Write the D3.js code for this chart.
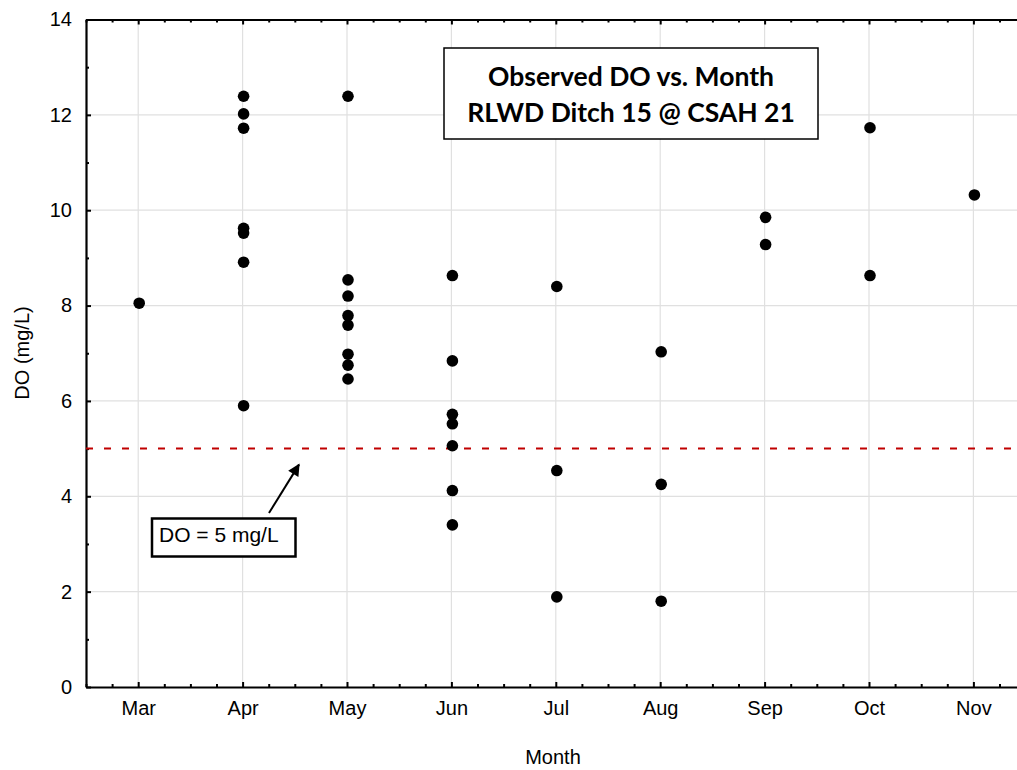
<!DOCTYPE html>
<html>
<head>
<meta charset="utf-8">
<script src="https://cdn.jsdelivr.net/npm/d3@7"></script>
<style>
  html, body { margin: 0; padding: 0; background: #fff; overflow: hidden; }
  svg { display: block; }
</style>
</head>
<body>
<svg id="chart" width="1017" height="770"></svg>
<script>
// Month categories along the x axis
const months = ["Mar", "Apr", "May", "Jun", "Jul", "Aug", "Sep", "Oct", "Nov"];

// Observed dissolved oxygen (mg/L) grouped by month
const doMar = [8.05];
const doApr = [12.39, 12.02, 11.72, 9.62, 9.52, 8.91, 5.90];
const doMay = [12.39, 8.54, 8.20, 7.79, 7.59, 6.98, 6.75, 6.46];
const doJun = [8.63, 6.84, 5.72, 5.52, 5.06, 4.12, 3.40];
const doJul = [8.40, 4.54, 1.89];
const doAug = [7.03, 4.25, 1.80];
const doSep = [9.85, 9.28];
const doOct = [11.73, 8.63];
const doNov = [10.32];
const seriesByMonth = [doMar, doApr, doMay, doJun, doJul, doAug, doSep, doOct, doNov];

// Y axis tick labels and the DO standard
const yTicks = [0, 2, 4, 6, 8, 10, 12, 14];
const doStandard = 5;
const titleLines = ["Observed DO vs. Month", "RLWD Ditch 15 @ CSAH 21"];
const standardLabel = "DO = 5 mg/L";

const points = [];
seriesByMonth.forEach((vals, i) => vals.forEach(v => points.push({ m: i, v })));

const svg = d3.select("#chart");
const plotLeft = 86, plotTop = 19.5, plotBottom = 687;
const step = 104.4;
const plotRight = plotLeft + step * 9;   // plot continues past the right edge of the page

const x = d3.scaleLinear().domain([-0.5, 8.5]).range([plotLeft, plotRight]);
const y = d3.scaleLinear().domain([0, 14]).range([plotBottom, plotTop]);

const font = "'Liberation Sans', Arial, sans-serif";

// grid
const grid = svg.append("g");
grid.selectAll("line.gx").data(months).enter().append("line")
  .attr("x1", (d, i) => x(i)).attr("x2", (d, i) => x(i))
  .attr("y1", plotTop).attr("y2", plotBottom)
  .attr("stroke", "#e0e0e0").attr("stroke-width", 1.2);
grid.selectAll("line.gy").data(yTicks.filter(t => t > 0 && t < 14)).enter().append("line")
  .attr("x1", plotLeft).attr("x2", plotRight)
  .attr("y1", d => y(d)).attr("y2", d => y(d))
  .attr("stroke", "#e0e0e0").attr("stroke-width", 1.2);

// minor tick positions (quarter months, odd DO values)
const xMinor = d3.range(-0.5, 8.5 + 1e-9, 0.25).filter(v => Math.abs(v - Math.round(v)) > 1e-6);
const yMinor = d3.range(1, 14, 2);

// bottom axis
const xAxis = d3.axisBottom(x).tickValues(d3.range(0, 9)).tickFormat(i => months[i])
  .tickSizeInner(-5).tickSizeOuter(0).tickPadding(14);
const gx = svg.append("g").attr("transform", `translate(0,${plotBottom})`).call(xAxis);
gx.select(".domain").attr("stroke", "#000").attr("stroke-width", 2.2);
gx.selectAll(".tick line").attr("stroke", "#000").attr("stroke-width", 2);
gx.selectAll(".tick text").attr("font-family", font).attr("font-size", 20).attr("fill", "#000")
  .attr("dy", "0.71em");
svg.append("g").attr("transform", `translate(0,${plotBottom})`)
  .call(d3.axisBottom(x).tickValues(xMinor).tickFormat("").tickSizeInner(-3).tickSizeOuter(0))
  .call(g => g.select(".domain").remove())
  .selectAll(".tick line").attr("stroke", "#000").attr("stroke-width", 2);

// top axis
const gt = svg.append("g").attr("transform", `translate(0,${plotTop})`)
  .call(d3.axisTop(x).tickValues(d3.range(0, 9)).tickFormat("").tickSizeInner(-5).tickSizeOuter(0));
gt.select(".domain").attr("stroke", "#000").attr("stroke-width", 2.2);
gt.selectAll(".tick line").attr("stroke", "#000").attr("stroke-width", 2);
svg.append("g").attr("transform", `translate(0,${plotTop})`)
  .call(d3.axisTop(x).tickValues(xMinor).tickFormat("").tickSizeInner(-3).tickSizeOuter(0))
  .call(g => g.select(".domain").remove())
  .selectAll(".tick line").attr("stroke", "#000").attr("stroke-width", 2);

// left axis
const yAxis = d3.axisLeft(y).tickValues(yTicks).tickFormat(d3.format("d"))
  .tickSizeInner(-5).tickSizeOuter(0).tickPadding(14);
const gy = svg.append("g").attr("transform", `translate(${plotLeft},0)`).call(yAxis);
gy.select(".domain").attr("stroke", "#000").attr("stroke-width", 2.2);
gy.selectAll(".tick line").attr("stroke", "#000").attr("stroke-width", 2);
gy.selectAll(".tick text").attr("font-family", font).attr("font-size", 20).attr("fill", "#000");
svg.append("g").attr("transform", `translate(${plotLeft},0)`)
  .call(d3.axisLeft(y).tickValues(yMinor).tickFormat("").tickSizeInner(-3).tickSizeOuter(0))
  .call(g => g.select(".domain").remove())
  .selectAll(".tick line").attr("stroke", "#000").attr("stroke-width", 2);

// axis titles
svg.append("text").attr("x", 553).attr("y", 764).attr("text-anchor", "middle")
  .attr("font-family", font).attr("font-size", 20).text("Month");
svg.append("text").attr("transform", "translate(29,353) rotate(-90)").attr("text-anchor", "middle")
  .attr("font-family", font).attr("font-size", 20).text("DO (mg/L)");

// DO standard line
svg.append("line")
  .attr("x1", plotLeft).attr("x2", plotRight)
  .attr("y1", y(doStandard)).attr("y2", y(doStandard))
  .attr("stroke", "#c00000").attr("stroke-width", 2)
  .attr("stroke-dasharray", "7,11");

// observations
svg.append("g").selectAll("circle").data(points).enter().append("circle")
  .attr("cx", d => x(d.m) + 1).attr("cy", d => y(d.v)).attr("r", 5.8)
  .attr("fill", "#000");

// title box
const tb = svg.append("g");
tb.append("rect").attr("x", 444).attr("y", 48).attr("width", 374).attr("height", 91)
  .attr("fill", "#fff").attr("stroke", "#000").attr("stroke-width", 1.5);
tb.selectAll("text").data(titleLines).enter().append("text")
  .attr("x", 631).attr("y", (d, i) => 86 + i * 35.5).attr("text-anchor", "middle")
  .attr("font-family", "Lato, 'Open Sans', sans-serif").attr("font-weight", "bold")
  .attr("font-size", 26.5).attr("fill", "#000").text(d => d);

// annotation arrow and label
svg.append("defs").append("marker").attr("id", "arrowhead")
  .attr("viewBox", "0 0 10 10").attr("refX", 9).attr("refY", 5)
  .attr("markerWidth", 7).attr("markerHeight", 6).attr("orient", "auto")
  .attr("markerUnits", "strokeWidth")
  .append("path").attr("d", "M0,0 L10,5 L0,10 z").attr("fill", "#000");
svg.append("line").attr("x1", 269).attr("y1", 513).attr("x2", 299).attr("y2", y(doStandard) + 16)
  .attr("stroke", "#000").attr("stroke-width", 2).attr("marker-end", "url(#arrowhead)");
svg.append("rect").attr("x", 152).attr("y", 518.5).attr("width", 143.5).attr("height", 38)
  .attr("fill", "#fff").attr("stroke", "#000").attr("stroke-width", 2.5);
svg.append("text").attr("x", 159).attr("y", 542).attr("font-family", font).attr("font-size", 21)
  .attr("fill", "#000").text(standardLabel);
</script>
</body>
</html>
